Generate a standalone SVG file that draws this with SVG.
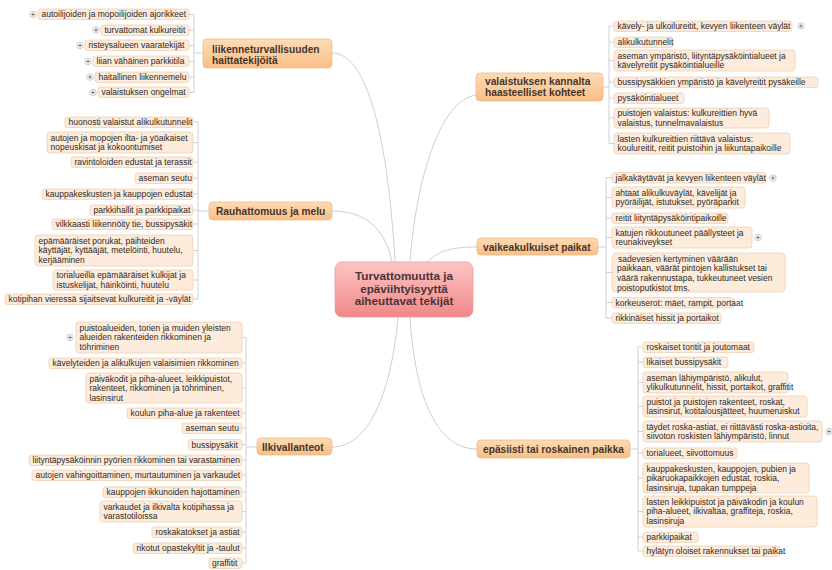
<svg xmlns="http://www.w3.org/2000/svg" width="832" height="570" viewBox="0 0 832 570">
<style>
.leaf rect{fill:#fdebdb;stroke:#efd1b3;stroke-width:0.8}
.leaf text{font-family:"Liberation Sans",Arial,sans-serif;font-size:8.5px;fill:#2e2a26}
.br rect{fill:url(#gOr);stroke:#f0bb86;stroke-width:0.8}
.br text{font-family:"Liberation Sans",Arial,sans-serif;font-size:10.2px;font-weight:bold;fill:#45352a}
.ctr text{font-family:"Liberation Sans",Arial,sans-serif;font-size:11.7px;font-weight:bold;fill:#4a3535;text-anchor:middle}
.con path{fill:none;stroke:#cfcfcf;stroke-width:1}
.brk path{fill:none;stroke:#c9ccd6;stroke-width:0.9}
</style>
<defs>
<linearGradient id="gOr" x1="0" y1="0" x2="0" y2="1"><stop offset="0" stop-color="#fddcb6"/><stop offset="1" stop-color="#f9be86"/></linearGradient>
<linearGradient id="gPk" x1="0" y1="0" x2="0" y2="1"><stop offset="0" stop-color="#fcc4c4"/><stop offset="1" stop-color="#f18787"/></linearGradient>
<g id="plus"><circle r="3.3" fill="#f7f7f7" stroke="#bdbdbd" stroke-width="0.7"/><path d="M-1.8 0H1.8M0 -1.8V1.8" stroke="#666" stroke-width="0.8"/></g>
</defs>
<rect width="832" height="570" fill="#ffffff"/>
<g id="connectors">
<g class="con">
<path d="M332 53 C368 53 388 140 395 262"/>
<path d="M332 211 C365 211 385 228 392 262"/>
<path d="M332 447 C372 447 392 385 398 317"/>
<path d="M476 95 C440 100 416 180 410 262"/>
<path d="M477 247 C452 247 437 251 428 262"/>
<path d="M477 449 C432 449 414 385 410 317"/>
</g>
<g class="brk">
<path d="M194 14.5V92.5M203 53H194M189 14.5H194M189 30H194M189 45.5H194M189 61.5H194M189 77H194M189 92.5H194"/>
<path d="M198 122V299M209 211H198M193 122H198M193 142.5H198M193 162H198M193 178H198M193 194H198M193 210H198M193 224H198M193 250.5H198M193 280H198M193 299H198"/>
<path d="M246 337.5V563M257 447H246M242 337.5H246M242 363H246M242 388H246M242 413H246M242 428H246M242 444.5H246M242 460H246M242 475H246M242 492H246M242 511.5H246M242 532H246M242 548H246M242 563H246"/>
<path d="M609 26V143.5M603 87H609M614 26H609M614 42H609M614 60.5H609M614 82H609M614 98H609M614 118H609M614 143.5H609"/>
<path d="M606 177.5V318M598 247H606M612 177.5H606M612 197.5H606M612 218H606M612 237.5H606M612 272.5H606M612 302.5H606M612 318H606"/>
<path d="M638 347V551M630 449H638M643 347H638M643 362H638M643 382.5H638M643 406.5H638M643 431.5H638M643 453H638M643 478H638M643 511.5H638M643 537H638M643 551H638"/>
</g>
</g>

<g id="center" class="ctr">
<rect x="335" y="262" width="138" height="55" rx="7" fill="url(#gPk)" stroke="#ee9c9c" stroke-width="0.8"/>
<text x="404" y="280">Turvattomuutta ja</text>
<text x="404" y="292.5">epäviihtyisyyttä</text>
<text x="404" y="305">aiheuttavat tekijät</text>
</g>

<g id="b-liikenne" class="br"><rect x="203" y="39" width="129" height="29" rx="4"/><text x="212" y="52.5">liikenneturvallisuuden</text><text x="212" y="63.5">haittatekijöitä</text></g>
<g id="b-rauha" class="br"><rect x="209" y="202" width="123" height="18" rx="4"/><text x="216" y="215">Rauhattomuus ja melu</text></g>
<g id="b-ilki" class="br"><rect x="257" y="438" width="75" height="17" rx="4"/><text x="262" y="451">Ilkivallanteot</text></g>
<g id="b-valaistus" class="br"><rect x="476" y="73" width="127" height="28" rx="4"/><text x="485" y="85">valaistuksen kannalta</text><text x="485" y="96">haasteelliset kohteet</text></g>
<g id="b-vaikea" class="br"><rect x="477" y="238" width="121" height="17" rx="4"/><text x="483" y="251">vaikeakulkuiset paikat</text></g>
<g id="b-epasiisti" class="br"><rect x="477" y="440" width="153" height="18" rx="4"/><text x="483" y="453">epäsiisti tai roskainen paikka</text></g>

<!-- left group 1 -->
<g id="l1a" class="leaf"><rect x="38" y="9" width="151" height="10.5" rx="2.5"/><text x="41.5" y="17">autoilijoiden ja mopoilijoiden ajorikkeet</text><use href="#plus" x="33" y="14.5"/></g>
<g id="l1b" class="leaf"><rect x="101" y="25" width="88" height="10.5" rx="2.5"/><text x="104.5" y="33">turvattomat kulkureitit</text><use href="#plus" x="96" y="30"/></g>
<g id="l1c" class="leaf"><rect x="85" y="40" width="104" height="10.5" rx="2.5"/><text x="88.5" y="48">risteysalueen vaaratekijät</text><use href="#plus" x="80" y="45.5"/></g>
<g id="l1d" class="leaf"><rect x="93" y="56" width="96" height="10.5" rx="2.5"/><text x="96.5" y="64">liian vähäinen parkkitila</text><use href="#plus" x="88" y="61.5"/></g>
<g id="l1e" class="leaf"><rect x="95" y="72" width="94" height="10.5" rx="2.5"/><text x="98.5" y="80">haitallinen liikennemelu</text><use href="#plus" x="90" y="77"/></g>
<g id="l1f" class="leaf"><rect x="98" y="87" width="91" height="10.5" rx="2.5"/><text x="101.5" y="95">valaistuksen ongelmat</text><use href="#plus" x="93" y="92.5"/></g>

<!-- left group 2 -->
<g id="l2a" class="leaf"><rect x="65" y="117" width="128" height="10.5" rx="2.5"/><text x="68.5" y="125">huonosti valaistut alikulkutunnelit</text></g>
<g id="l2b" class="leaf"><rect x="47" y="132" width="146" height="21" rx="3"/><text x="50.5" y="140.5">autojen ja mopojen ilta- ja yöaikaiset<tspan x="50.5" dy="9.7">nopeuskisat ja kokoontumiset</tspan></text></g>
<g id="l2c" class="leaf"><rect x="71" y="157" width="122" height="10.5" rx="2.5"/><text x="74.5" y="165">ravintoloiden edustat ja terassit</text></g>
<g id="l2d" class="leaf"><rect x="135" y="173" width="58" height="10.5" rx="2.5"/><text x="138.5" y="181">aseman seutu</text></g>
<g id="l2e" class="leaf"><rect x="42" y="189" width="151" height="10.5" rx="2.5"/><text x="45.5" y="197">kauppakeskusten ja kauppojen edustat</text></g>
<g id="l2f" class="leaf"><rect x="90" y="205" width="103" height="10.5" rx="2.5"/><text x="93.5" y="213">parkkihallit ja parkkipaikat</text></g>
<g id="l2g" class="leaf"><rect x="52" y="219" width="141" height="10.5" rx="2.5"/><text x="55.5" y="227">vilkkaasti liikennöity tie, bussipysäkit</text></g>
<g id="l2h" class="leaf"><rect x="35" y="235" width="158" height="31" rx="3"/><text x="38.5" y="243.5">epämääräiset porukat, päihteiden<tspan x="38.5" dy="9.7">käyttäjät, kyttääjät, metelöinti, huutelu,</tspan><tspan x="38.5" dy="9.7">kerjääminen</tspan></text></g>
<g id="l2i" class="leaf"><rect x="53" y="270" width="140" height="20" rx="3"/><text x="56.5" y="278">torialueilla epämääräiset kulkijat ja<tspan x="56.5" dy="9.7">istuskelijat, häiriköinti, huutelu</tspan></text></g>
<g id="l2j" class="leaf"><rect x="5" y="294" width="188" height="10.5" rx="2.5"/><text x="8.5" y="302">kotipihan vieressä sijaitsevat kulkureitit ja -väylät</text></g>

<!-- left group 3 -->
<g id="l3a" class="leaf"><rect x="76" y="322" width="166" height="31" rx="3"/><text x="79.5" y="330.5">puistoalueiden, torien ja muiden yleisten<tspan x="79.5" dy="9.7">alueiden rakenteiden rikkominen ja</tspan><tspan x="79.5" dy="9.7">töhriminen</tspan></text><use href="#plus" x="70" y="337.5"/></g>
<g id="l3b" class="leaf"><rect x="49" y="358" width="193" height="10.5" rx="2.5"/><text x="52.5" y="366">kävelyteiden ja alikulkujen valaisimien rikkominen</text></g>
<g id="l3c" class="leaf"><rect x="86" y="373" width="156" height="30" rx="3"/><text x="89.5" y="381.5">päiväkodit ja piha-alueet, leikkipuistot,<tspan x="89.5" dy="9.7">rakenteet, rikkominen ja töhriminen,</tspan><tspan x="89.5" dy="9.7">lasinsirut</tspan></text></g>
<g id="l3d" class="leaf"><rect x="127" y="408" width="115" height="10.5" rx="2.5"/><text x="130.5" y="416">koulun piha-alue ja rakenteet</text></g>
<g id="l3e" class="leaf"><rect x="182" y="423" width="60" height="10.5" rx="2.5"/><text x="185.5" y="431">aseman seutu</text></g>
<g id="l3f" class="leaf"><rect x="188" y="439.5" width="54" height="10.5" rx="2.5"/><text x="191.5" y="447.5">bussipysäkit</text></g>
<g id="l3g" class="leaf"><rect x="29" y="455" width="213" height="10.5" rx="2.5"/><text x="32.5" y="463">liityntäpysäköinnin pyörien rikkominen tai varastaminen</text></g>
<g id="l3h" class="leaf"><rect x="32" y="470" width="210" height="10.5" rx="2.5"/><text x="35.5" y="478">autojen vahingoittaminen, murtautuminen ja varkaudet</text></g>
<g id="l3i" class="leaf"><rect x="103" y="487" width="139" height="10.5" rx="2.5"/><text x="106.5" y="495">kauppojen ikkunoiden hajottaminen</text></g>
<g id="l3j" class="leaf"><rect x="100" y="501" width="142" height="21" rx="3"/><text x="103.5" y="509.5">varkaudet ja ilkivalta kotipihassa ja<tspan x="103.5" dy="9.7">varastotiloissa</tspan></text></g>
<g id="l3k" class="leaf"><rect x="152" y="527" width="90" height="10.5" rx="2.5"/><text x="155.5" y="535">roskakatokset ja astiat</text></g>
<g id="l3l" class="leaf"><rect x="133" y="543" width="109" height="10.5" rx="2.5"/><text x="136.5" y="551">rikotut opastekyltit ja -taulut</text></g>
<g id="l3m" class="leaf"><rect x="209" y="558" width="33" height="10.5" rx="2.5"/><text x="212" y="566">graffitit</text></g>

<!-- right group 1 -->
<g id="r1a" class="leaf"><rect x="614" y="21" width="178" height="10.5" rx="2.5"/><text x="617.5" y="29">kävely- ja ulkoilureitit, kevyen liikenteen väylät</text><use href="#plus" x="801" y="26"/></g>
<g id="r1b" class="leaf"><rect x="614" y="37" width="59" height="10.5" rx="2.5"/><text x="617.5" y="45">alikulkutunnelit</text></g>
<g id="r1c" class="leaf"><rect x="614" y="50" width="181" height="21" rx="3"/><text x="617.5" y="58.5">aseman ympäristö, liityntäpysäköintialueet ja<tspan x="617.5" dy="9.7">kävelyreitit pysäköintialueille</tspan></text></g>
<g id="r1d" class="leaf"><rect x="614" y="77" width="204" height="10.5" rx="2.5"/><text x="617.5" y="85">bussipysäkkien ympäristö ja kävelyreitit pysäkeille</text></g>
<g id="r1e" class="leaf"><rect x="614" y="93" width="70" height="10.5" rx="2.5"/><text x="617.5" y="101">pysäköintialueet</text></g>
<g id="r1f" class="leaf"><rect x="614" y="108" width="155" height="20" rx="3"/><text x="617.5" y="116">puistojen valaistus: kulkureittien hyvä<tspan x="617.5" dy="9.7">valaistus, tunnelmavalaistus</tspan></text></g>
<g id="r1g" class="leaf"><rect x="614" y="133" width="176" height="21" rx="3"/><text x="617.5" y="141.5">lasten kulkureittien riittävä valaistus:<tspan x="617.5" dy="9.7">koulureitit, reitit puistoihin ja liikuntapaikoille</tspan></text></g>

<!-- right group 2 -->
<g id="r2a" class="leaf"><rect x="612" y="172.5" width="154" height="10.5" rx="2.5"/><text x="615.5" y="180.5">jalkakäytävät ja kevyen liikenteen väylät</text><use href="#plus" x="773" y="178"/></g>
<g id="r2b" class="leaf"><rect x="612" y="187" width="133" height="21" rx="3"/><text x="615.5" y="195.5">ahtaat alikulkuväylät, kävelijät ja<tspan x="615.5" dy="9.7">pyöräilijät, istutukset, pyöräparkit</tspan></text></g>
<g id="r2c" class="leaf"><rect x="612" y="213" width="116" height="10.5" rx="2.5"/><text x="615.5" y="221">reitit liityntäpysäköintipaikoille</text></g>
<g id="r2d" class="leaf"><rect x="612" y="227" width="140" height="21" rx="3"/><text x="615.5" y="235.5">katujen rikkoutuneet päällysteet ja<tspan x="615.5" dy="9.7">reunakiveykset</tspan></text><use href="#plus" x="758" y="237.5"/></g>
<g id="r2e" class="leaf"><rect x="612" y="253" width="173" height="39" rx="4"/><text x="618" y="261.5">sadevesien kertyminen väärään<tspan x="617" dy="9.7">paikkaan, väärät pintojen kallistukset tai</tspan><tspan x="617" dy="9.7">väärä rakennustapa, tukkeutuneet vesien</tspan><tspan x="617" dy="9.7">poistoputkistot tms.</tspan></text></g>
<g id="r2f" class="leaf"><rect x="612" y="297.5" width="122" height="10.5" rx="2.5"/><text x="615.5" y="305.5">korkeuserot: mäet, rampit, portaat</text></g>
<g id="r2g" class="leaf"><rect x="612" y="313" width="109" height="10.5" rx="2.5"/><text x="615.5" y="321">rikkinäiset hissit ja portaikot</text></g>

<!-- right group 3 -->
<g id="r3a" class="leaf"><rect x="643" y="342" width="111" height="10.5" rx="2.5"/><text x="646.5" y="350">roskaiset tontit ja joutomaat</text></g>
<g id="r3b" class="leaf"><rect x="643" y="357" width="85" height="10.5" rx="2.5"/><text x="646.5" y="365">likaiset bussipysäkit</text></g>
<g id="r3c" class="leaf"><rect x="643" y="372" width="145" height="21" rx="3"/><text x="646.5" y="380.5">aseman lähiympäristö, alikulut,<tspan x="646.5" dy="9.7">ylikulkutunnelit, hissit, portaikot, graffitit</tspan></text></g>
<g id="r3d" class="leaf"><rect x="643" y="396" width="164" height="21" rx="3"/><text x="646.5" y="404.5">puistot ja puistojen rakenteet, roskat,<tspan x="646.5" dy="9.7">lasinsirut, kotitalousjätteet, huumeruiskut</tspan></text></g>
<g id="r3e" class="leaf"><rect x="643" y="421" width="179" height="21" rx="3"/><text x="646.5" y="429.5">täydet roska-astiat, ei riittävästi roska-astioita,<tspan x="646.5" dy="9.7">siivoton roskisten lähiympäristö, linnut</tspan></text><use href="#plus" x="829" y="431.5"/></g>
<g id="r3f" class="leaf"><rect x="643" y="448" width="94" height="10.5" rx="2.5"/><text x="646.5" y="456">torialueet, siivottomuus</text></g>
<g id="r3g" class="leaf"><rect x="643" y="463" width="166" height="30" rx="3"/><text x="646.5" y="471.5">kauppakeskusten, kauppojen, pubien ja<tspan x="646.5" dy="9.7">pikaruokapaikkojen edustat, roskia,</tspan><tspan x="646.5" dy="9.7">lasinsiruja, tupakan tumppeja</tspan></text></g>
<g id="r3h" class="leaf"><rect x="643" y="496" width="174" height="31" rx="3"/><text x="646.5" y="504.5">lasten leikkipuistot ja päiväkodin ja koulun<tspan x="646.5" dy="9.7">piha-alueet, ilkivaltaa, graffiteja, roskia,</tspan><tspan x="646.5" dy="9.7">lasinsiruja</tspan></text></g>
<g id="r3i" class="leaf"><rect x="643" y="532" width="55" height="10.5" rx="2.5"/><text x="646.5" y="540">parkkipaikat</text></g>
<g id="r3j" class="leaf"><rect x="643" y="546" width="137" height="10.5" rx="2.5"/><text x="646.5" y="554">hylätyn oloiset rakennukset tai paikat</text></g>
</svg>
